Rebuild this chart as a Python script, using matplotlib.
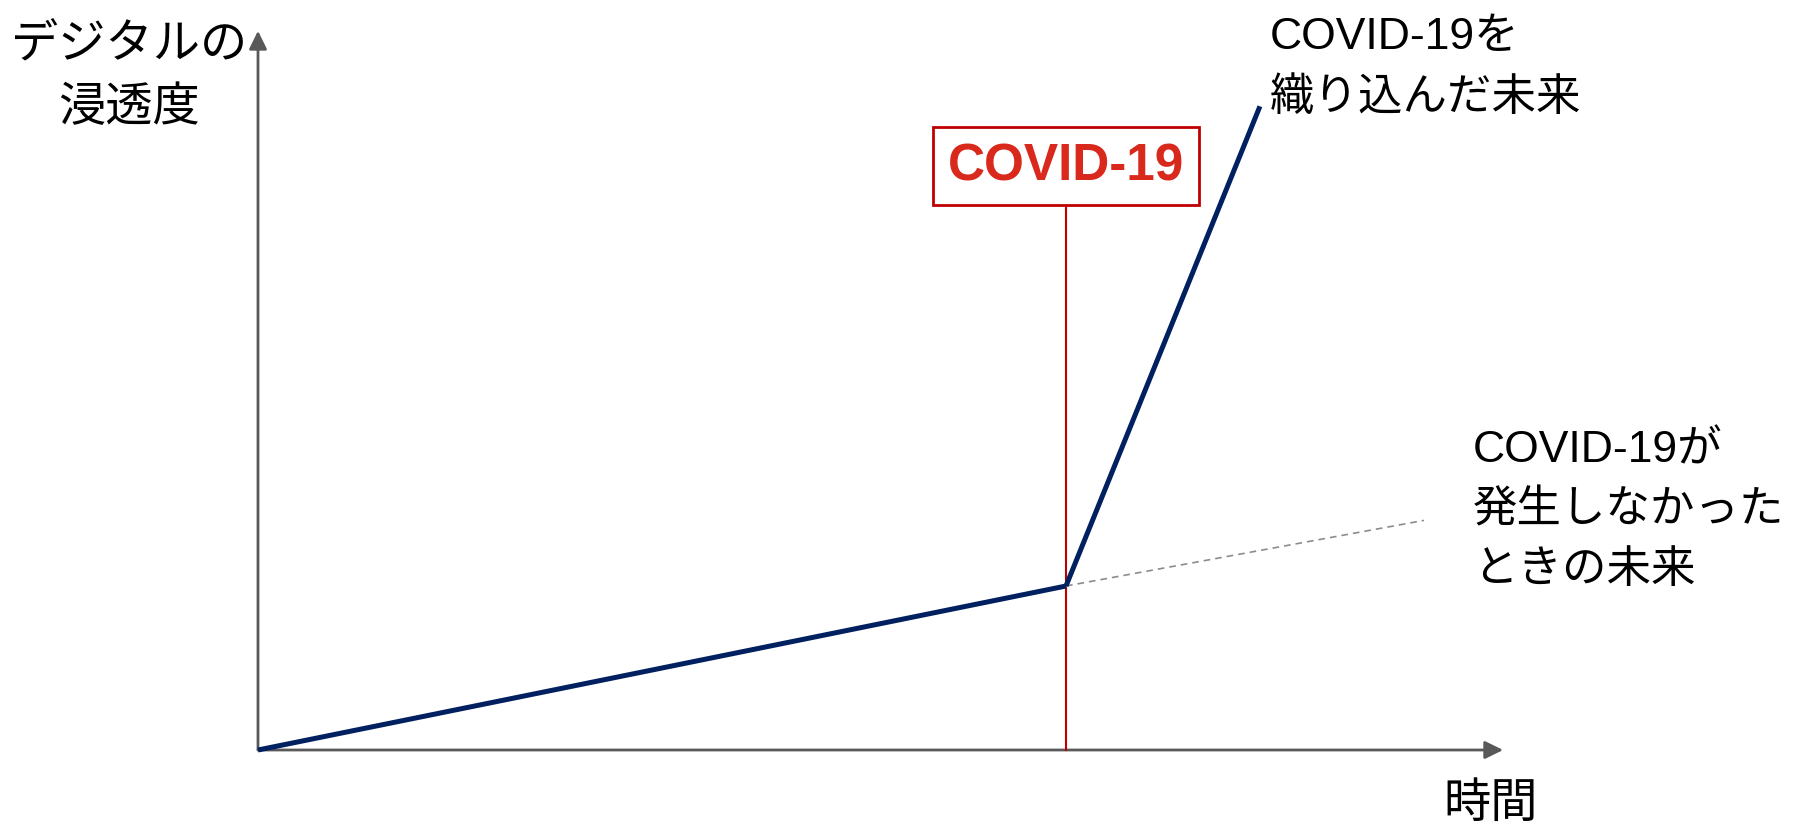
import matplotlib
matplotlib.use("Agg")
import matplotlib.pyplot as plt

plt.rcParams['font.family'] = ['Liberation Sans', 'Noto Sans CJK JP', 'DejaVu Sans']

# data (arbitrary units: time vs digital penetration)
t_base = [0.0, 10.0]          # start -> COVID
v_base = [0.0, 2.0]
t_covid = [10.0, 12.4]        # with COVID
v_covid = [2.0, 7.85]
t_nocovid = [10.0, 14.43]     # without COVID
v_nocovid = [2.0, 2.8]
covid_t = 10.0
x_axis_end = 15.41
y_axis_end = 8.77

label_covid = "COVID-19"
label_with = "COVID-19を\n織り込んだ未来"
label_without = "COVID-19が\n発生しなかった\nときの未来"
label_y = "デジタルの\n浸透度"
label_x = "時間"

navy = '#002060'
red = '#c00000'
red_text = '#d9291c'
axis_gray = '#595959'

W, H, DPI = 1813, 829, 100
fig = plt.figure(figsize=(W / DPI, H / DPI), dpi=DPI)
ax = fig.add_axes([0, 0, 1, 1])
px_x = 80.8   # pixels per time unit
px_y = 82.0   # pixels per value unit
ox, oy = 258, 78
ax.set_xlim(-ox / px_x, (W - ox) / px_x)
ax.set_ylim(-oy / px_y, (H - oy) / px_y)
ax.axis('off')

arrow = dict(arrowstyle='-|>,head_length=0.55,head_width=0.27', color=axis_gray,
             lw=2.0, shrinkA=0, shrinkB=0, mutation_scale=20)
ax.annotate('', xy=(0, y_axis_end), xytext=(0, 0), arrowprops=arrow, zorder=2)
ax.annotate('', xy=(x_axis_end, 0), xytext=(0, 0), arrowprops=arrow, zorder=2)

# COVID marker line
box_y = 7.12
ax.plot([covid_t, covid_t], [0, box_y], color=red, lw=1.5, zorder=3)

ax.plot(t_nocovid, v_nocovid, color='#8c8c8c', lw=1.2, ls=(0, (4, 3)), zorder=3)
ax.plot(t_base, v_base, color=navy, lw=3.6, solid_capstyle='butt', zorder=4)
ax.plot(t_covid, v_covid, color=navy, lw=3.6, solid_capstyle='butt', zorder=4)

ax.text(covid_t, box_y, label_covid, color=red_text, fontsize=37, fontweight='bold',
        ha='center', va='center', zorder=6,
        bbox=dict(boxstyle='square,pad=0.28', facecolor='white', edgecolor=red, lw=2.0))

ax.text(12.52, 8.33, label_with, fontsize=32, ha='left', va='center', linespacing=1.58)
ax.text(15.04, 2.93, label_without, fontsize=32, ha='left', va='center', linespacing=1.58)
ax.text(-1.60, 8.21, label_y, fontsize=34, ha='center', va='center',
        multialignment='center', linespacing=1.56)
ax.text(15.26, -0.66, label_x, fontsize=34, ha='center', va='center')

fig.savefig('out.png', dpi=DPI, facecolor='white')
